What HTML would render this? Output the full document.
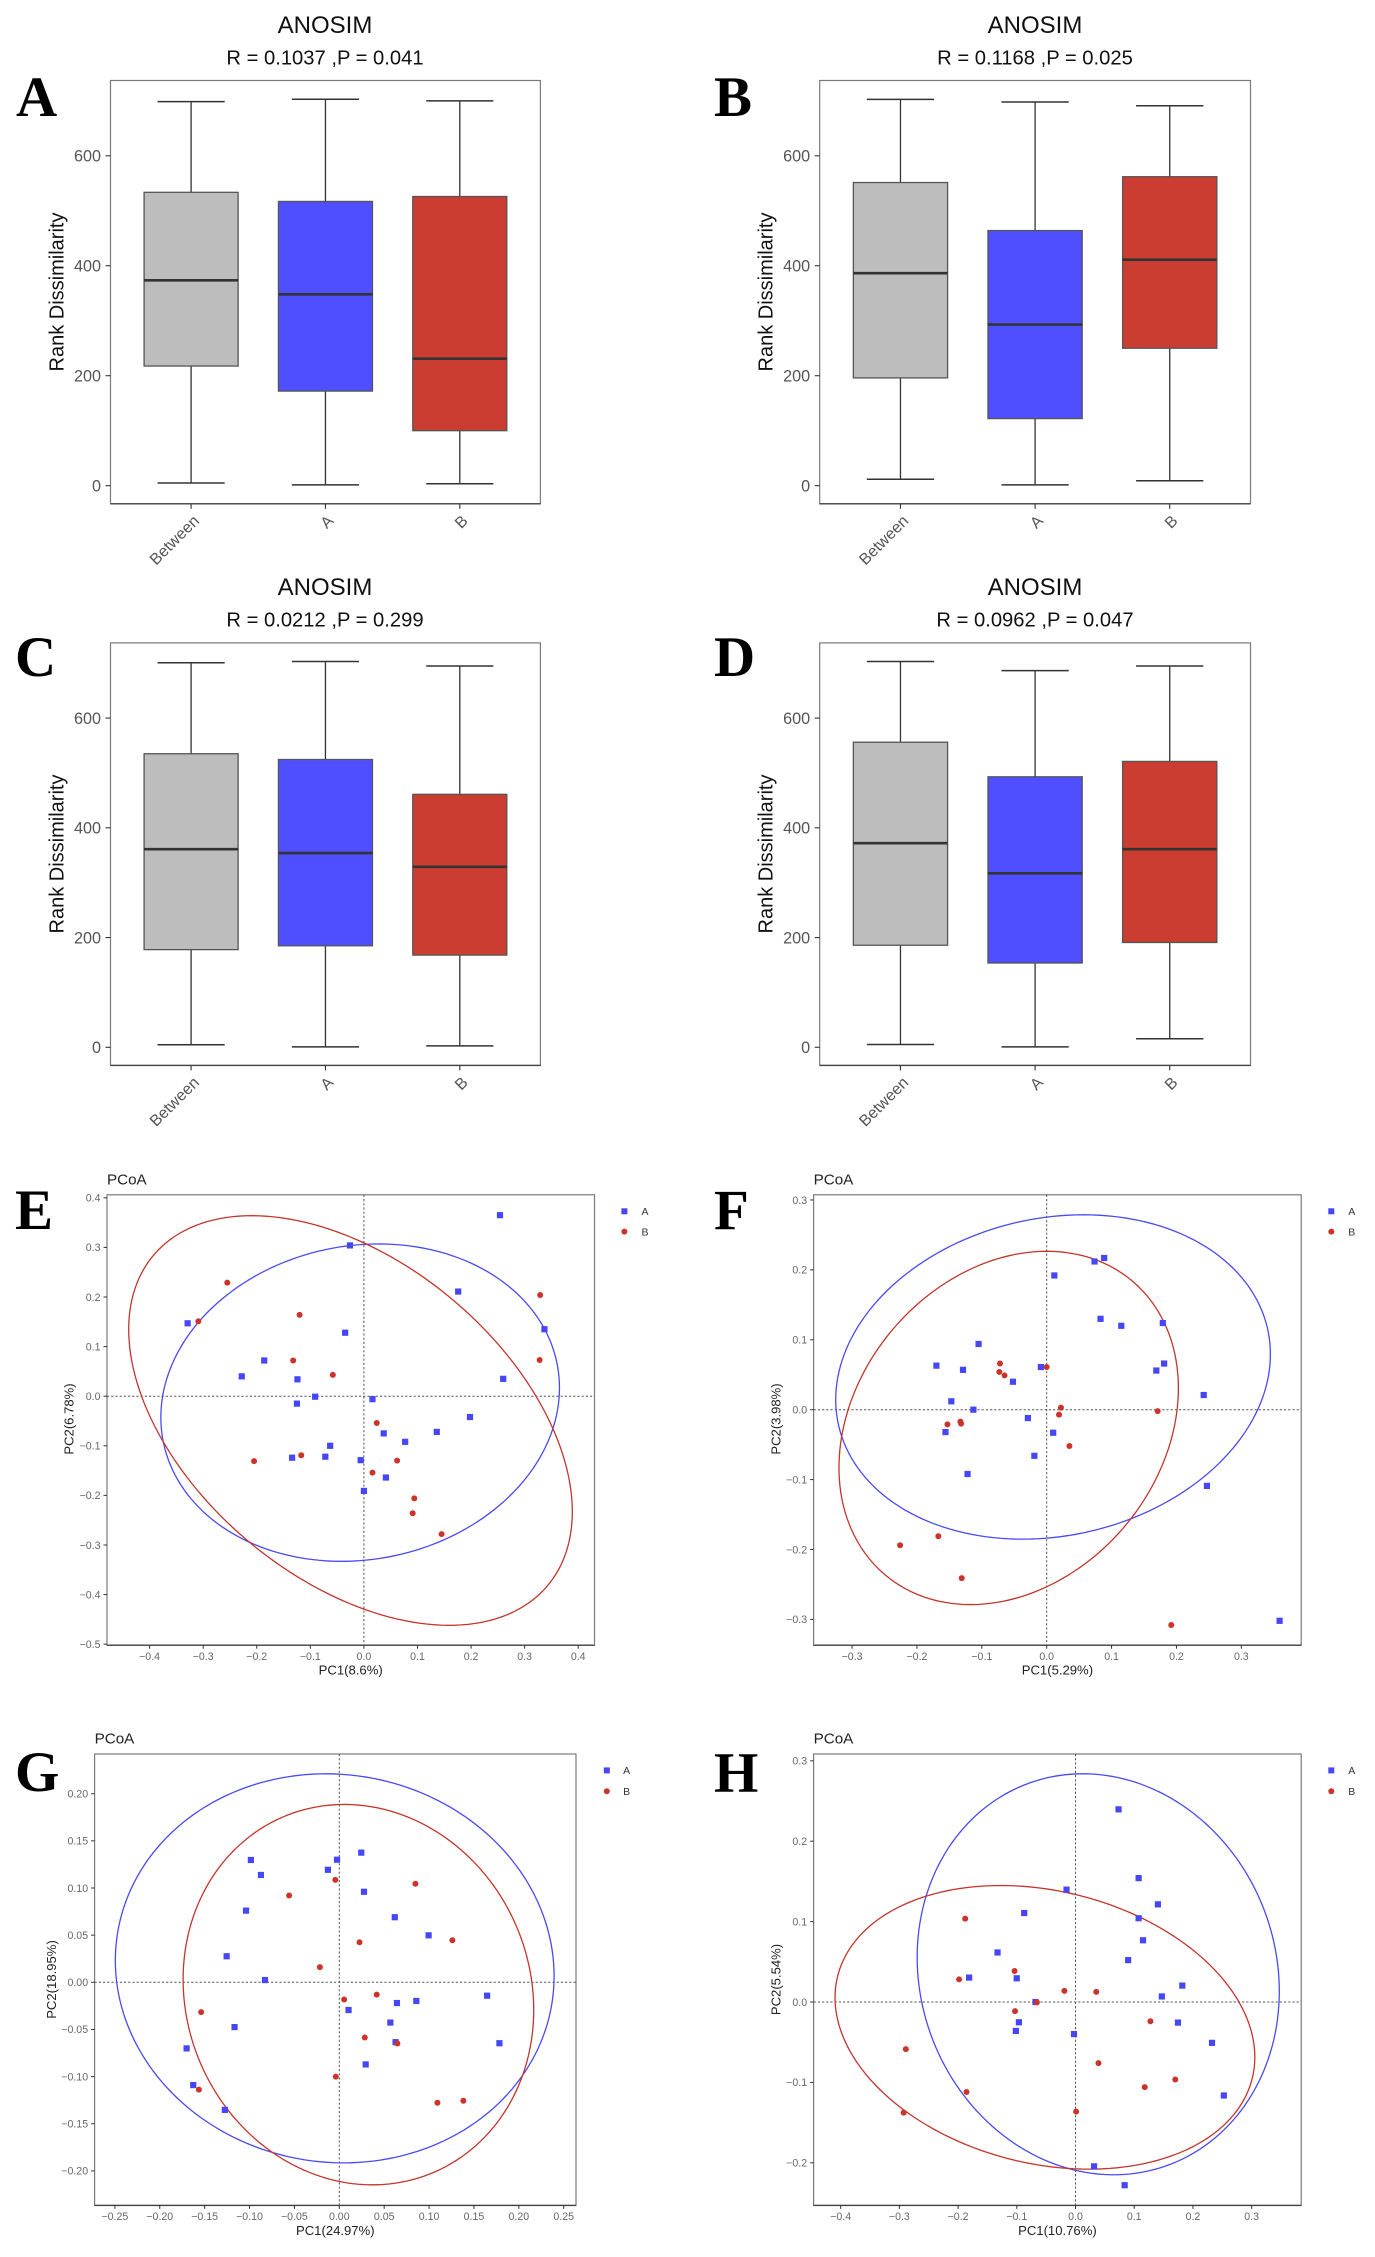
<!DOCTYPE html>
<html lang="en">
<head>
<meta charset="utf-8">
<title>ANOSIM and PCoA panels</title>
<style>
html,body{margin:0;padding:0;background:#fff;}
svg{display:block;filter:blur(0.35px);}
text{font-family:"Liberation Sans",Arial,sans-serif;}
.letter{font-family:"Liberation Serif","Times New Roman",serif;font-weight:bold;font-size:57px;fill:#000;}
.title{font-size:24px;fill:#111;text-anchor:middle;}
.sub{font-size:20.2px;fill:#111;text-anchor:middle;}
.ytitle{font-size:20px;fill:#111;text-anchor:middle;}
.pcoa{font-size:15.2px;fill:#222;}
.axt{font-size:13.1px;fill:#222;text-anchor:middle;}
.leg{font-size:10.5px;fill:#333;text-anchor:middle;}
</style>
</head>
<body>
<svg id="figure" xmlns="http://www.w3.org/2000/svg" width="1375" height="2257" viewBox="0 0 1375 2257">
<rect width="1375" height="2257" fill="#fff"/>
<g id="plots"></g>

<text class="letter" x="16" y="116">A</text>
<text class="title" x="325" y="33">ANOSIM</text>
<text class="sub" x="325" y="64.7">R = 0.1037 ,P = 0.041</text>
<text class="ytitle" transform="translate(63.5,292) rotate(-90)">Rank Dissimilarity</text>

<text class="letter" x="714" y="116">B</text>
<text class="title" x="1035" y="33">ANOSIM</text>
<text class="sub" x="1035" y="64.7">R = 0.1168 ,P = 0.025</text>
<text class="ytitle" transform="translate(772.5,292) rotate(-90)">Rank Dissimilarity</text>

<text class="letter" x="15" y="676">C</text>
<text class="title" x="325" y="595">ANOSIM</text>
<text class="sub" x="325" y="626.5">R = 0.0212 ,P = 0.299</text>
<text class="ytitle" transform="translate(63.5,854) rotate(-90)">Rank Dissimilarity</text>

<text class="letter" x="714" y="676">D</text>
<text class="title" x="1035" y="595">ANOSIM</text>
<text class="sub" x="1035" y="626.5">R = 0.0962 ,P = 0.047</text>
<text class="ytitle" transform="translate(772.5,854) rotate(-90)">Rank Dissimilarity</text>

<text class="letter" x="15" y="1229">E</text>
<text class="pcoa" x="107" y="1184.4">PCoA</text>
<text class="axt" x="350.7" y="1674.5">PC1(8.6%)</text>
<text class="axt" transform="translate(73.5,1419) rotate(-90)">PC2(6.78%)</text>

<text class="letter" x="714" y="1229">F</text>
<text class="pcoa" x="813.6" y="1184.4">PCoA</text>
<text class="axt" x="1057.4" y="1674.5">PC1(5.29%)</text>
<text class="axt" transform="translate(780.4,1419) rotate(-90)">PC2(3.98%)</text>

<text class="letter" x="15" y="1791">G</text>
<text class="pcoa" x="94.6" y="1743.5">PCoA</text>
<text class="axt" x="335.3" y="2235">PC1(24.97%)</text>
<text class="axt" transform="translate(55.9,1979.5) rotate(-90)">PC2(18.95%)</text>

<text class="letter" x="714" y="1792">H</text>
<text class="pcoa" x="813.6" y="1743.5">PCoA</text>
<text class="axt" x="1057.4" y="2235">PC1(10.76%)</text>
<text class="axt" transform="translate(780.4,1979.5) rotate(-90)">PC2(5.54%)</text>

<g>
<rect x="621.4" y="1208.3" width="6" height="6" fill="#4646f5"/>
<text class="leg" x="645" y="1215">A</text>
<circle cx="624.4" cy="1231.6" r="3" fill="#cc3329"/>
<text class="leg" x="645" y="1235.3">B</text>
</g>
<g>
<rect x="1328.3" y="1208.3" width="6" height="6" fill="#4646f5"/>
<text class="leg" x="1351.8" y="1215">A</text>
<circle cx="1331.3" cy="1231.6" r="3" fill="#cc3329"/>
<text class="leg" x="1351.8" y="1235.3">B</text>
</g>
<g>
<rect x="603.8" y="1767.4" width="6" height="6" fill="#4646f5"/>
<text class="leg" x="626.6" y="1774.1">A</text>
<circle cx="606.8" cy="1791.3" r="3" fill="#cc3329"/>
<text class="leg" x="626.6" y="1795">B</text>
</g>
<g>
<rect x="1328.3" y="1767.4" width="6" height="6" fill="#4646f5"/>
<text class="leg" x="1351.8" y="1774.1">A</text>
<circle cx="1331.3" cy="1791.3" r="3" fill="#cc3329"/>
<text class="leg" x="1351.8" y="1795">B</text>
</g>
</svg>

<script>
// ---- Boxplot data ----
const boxCategories = ['Between', 'A', 'B'];
const boxTicks = [0, 200, 400, 600];

const panelA_high = [698.5, 703, 700];
const panelA_q3 = [533.6, 517, 526];
const panelA_median = [373.5, 348, 231];
const panelA_q1 = [217.6, 172, 100];
const panelA_low = [4.8, 1.4, 3.4];

const panelB_high = [702.6, 698, 691];
const panelB_q3 = [551.4, 464, 562];
const panelB_median = [386.5, 293, 411];
const panelB_q1 = [196, 122, 250];
const panelB_low = [11.6, 1.4, 9];

const panelC_high = [700.8, 703, 695];
const panelC_q3 = [535, 524.5, 461];
const panelC_median = [361, 354, 329];
const panelC_q1 = [178, 185, 168];
const panelC_low = [4.6, 0.7, 2.6];

const panelD_high = [703, 686.5, 695];
const panelD_q3 = [556, 493, 521];
const panelD_median = [372, 317, 361];
const panelD_q1 = [186, 153.6, 191];
const panelD_low = [5, 0.7, 15.6];

// ---- PCoA data ----
const panelE_xTicks = [-0.4, -0.3, -0.2, -0.1, 0, 0.1, 0.2, 0.3, 0.4];
const panelE_yTicks = [-0.5, -0.4, -0.3, -0.2, -0.1, 0, 0.1, 0.2, 0.3, 0.4];
const panelE_A_x = [0.254, -0.026, 0.176, -0.329, 0.337, -0.035, -0.186, -0.228, -0.124, 0.26, -0.091, 0.016, -0.125, 0.198, 0.136, 0.037, 0.077, -0.063, -0.072, -0.134, -0.006, 0.041, 0];
const panelE_A_y = [0.365, 0.304, 0.211, 0.147, 0.135, 0.128, 0.072, 0.04, 0.034, 0.035, -0.001, -0.006, -0.015, -0.042, -0.072, -0.075, -0.092, -0.1, -0.122, -0.124, -0.129, -0.164, -0.191];
const panelE_B_x = [-0.255, 0.329, -0.309, -0.12, 0.328, -0.132, -0.058, 0.024, -0.117, -0.205, 0.062, 0.016, 0.094, 0.091, 0.145];
const panelE_B_y = [0.229, 0.204, 0.151, 0.164, 0.073, 0.072, 0.043, -0.054, -0.119, -0.131, -0.13, -0.154, -0.206, -0.236, -0.278];
const panelE_A_ellipse = [-0.007, -0.013, 0.372, 0.32, 0.093];
const panelE_B_ellipse = [-0.025, -0.049, 0.414, 0.413, -0.445];

const panelF_xTicks = [-0.3, -0.2, -0.1, 0, 0.1, 0.2, 0.3];
const panelF_yTicks = [-0.3, -0.2, -0.1, 0, 0.1, 0.2, 0.3];
const panelF_A_x = [0.0886, 0.0737, 0.0118, 0.083, 0.115, 0.179, -0.105, -0.17, -0.129, -0.009, -0.052, 0.181, 0.169, 0.242, -0.147, -0.113, -0.029, -0.156, 0.01, -0.019, -0.122, 0.247, 0.359];
const panelF_A_y = [0.217, 0.212, 0.192, 0.13, 0.12, 0.124, 0.094, 0.063, 0.057, 0.061, 0.04, 0.066, 0.056, 0.021, 0.012, 0, -0.012, -0.032, -0.033, -0.066, -0.092, -0.109, -0.302];
const panelF_B_x = [-0.072, -0.073, -0.065, 0, 0.022, 0.019, 0.171, -0.133, -0.132, -0.153, 0.035, -0.167, -0.226, -0.131, 0.192];
const panelF_B_y = [0.066, 0.054, 0.049, 0.061, 0.003, -0.007, -0.002, -0.017, -0.02, -0.021, -0.052, -0.181, -0.194, -0.241, -0.308];
const panelF_A_ellipse = [0.0098, 0.0468, 0.335, 0.232, 0.14];
const panelF_B_ellipse = [-0.0586, -0.0261, 0.2616, 0.2527, 0.225];

const panelG_xTicks = [-0.25, -0.2, -0.15, -0.1, -0.05, 0, 0.05, 0.1, 0.15, 0.2, 0.25];
const panelG_yTicks = [-0.2, -0.15, -0.1, -0.05, 0, 0.05, 0.1, 0.15, 0.2];
const panelG_A_x = [0.0245, -0.0025, -0.0985, -0.0127, -0.0873, 0.0275, -0.1039, 0.0618, 0.0995, -0.1255, -0.0828, 0.1647, 0.0858, 0.0642, 0.0103, 0.0569, -0.1167, 0.0627, 0.1784, -0.1701, 0.0294, -0.1627, -0.1275];
const panelG_A_y = [0.1375, 0.13, 0.1297, 0.1193, 0.1138, 0.096, 0.076, 0.069, 0.0498, 0.0276, 0.0024, -0.0142, -0.0198, -0.022, -0.0294, -0.0427, -0.0475, -0.0635, -0.0646, -0.0701, -0.0871, -0.109, -0.1353];
const panelG_B_x = [-0.0044, 0.0848, -0.0559, 0.126, 0.0225, -0.0216, 0.0417, 0.0054, -0.1539, 0.0284, 0.0647, -0.0039, -0.1564, 0.1093, 0.1382];
const panelG_B_y = [0.1086, 0.1045, 0.092, 0.0446, 0.0424, 0.0161, -0.0131, -0.0183, -0.0316, -0.0586, -0.0649, -0.1001, -0.1138, -0.1278, -0.1256];
const panelG_A_ellipse = [-0.0051, 0.0148, 0.2444, 0.2063, -0.04];
const panelG_B_ellipse = [0.0213, -0.0131, 0.1953, 0.2017, -0.08];

const panelH_xTicks = [-0.4, -0.3, -0.2, -0.1, 0, 0.1, 0.2, 0.3];
const panelH_yTicks = [-0.2, -0.1, 0, 0.1, 0.2, 0.3];
const panelH_A_x = [0.0733, 0.1075, -0.0153, 0.1403, -0.0874, 0.1075, 0.115, -0.1328, 0.0897, -0.1812, -0.1001, 0.1819, 0.147, -0.0681, 0.1745, -0.0964, -0.1016, -0.0026, 0.2325, 0.2526, 0.0316, 0.0837];
const panelH_A_y = [0.2396, 0.1541, 0.1398, 0.1215, 0.1107, 0.1042, 0.0768, 0.0616, 0.0521, 0.0304, 0.0295, 0.0204, 0.0069, 0, -0.0256, -0.0252, -0.036, -0.0399, -0.0508, -0.1163, -0.2044, -0.2279];
const panelH_B_x = [-0.1879, -0.1038, -0.1983, -0.019, 0.0353, -0.0658, -0.103, 0.1276, -0.289, 0.0391, 0.17, 0.1179, -0.1856, 0.0011, -0.2928];
const panelH_B_y = [0.1037, 0.0386, 0.0282, 0.0139, 0.0126, -0.0004, -0.0113, -0.0239, -0.0586, -0.076, -0.0964, -0.1059, -0.112, -0.1363, -0.1376];
const panelH_A_ellipse = [0.0387, 0.0345, 0.3084, 0.2494, -0.085];
const panelH_B_ellipse = [-0.0521, -0.0315, 0.3575, 0.1764, -0.21];

// ---- Drawing ----
const NS = 'http://www.w3.org/2000/svg';
const root = document.getElementById('plots');
const boxFill = ['#bdbdbd', '#4f4fff', '#cb3c31'];

function make(tag, attrs, parent) {
  const node = document.createElementNS(NS, tag);
  for (const k in attrs) node.setAttribute(k, attrs[k]);
  parent.appendChild(node);
  return node;
}
function linear(d0, d1, r0, r1) {
  return v => r0 + (v - d0) * (r1 - r0) / (d1 - d0);
}

function drawFrame(g, f) {
  const frame = make('rect', {x: f.l, y: f.t, width: f.r - f.l, height: f.b - f.t, fill: '#fff', stroke: '#7a7a7a', 'stroke-width': 1.2}, g);
  
  
  const axis = make('line', {x1: f.l, x2: f.r, y1: f.b, y2: f.b, stroke: '#444', 'stroke-width': 1.4}, g);
  
  
}

function drawBoxPanel(key, f, high, q3, median, q1, low) {
  const g = make('g', {}, root);
  
  
  drawFrame(g, f);
  const y = linear(-33, 737, f.b, f.t);
  const step = (f.r - f.l) / 3.2;
  const x = i => f.l + (0.6 + i) * step;

  boxTicks.forEach(v => {
    const tick = make('line', {x1: f.l - 5, x2: f.l, y1: y(v), y2: y(v), stroke: '#333', 'stroke-width': 1.1}, g);
    
    
    const label = make('text', {x: f.l - 9.5, y: y(v) + 5.7, 'font-size': 16.2, fill: '#555', 'text-anchor': 'end'}, g);
    
    
    label.textContent = String(v);
  });

  boxCategories.forEach((cat, i) => {
    const cx = x(i);
    const tick = make('line', {x1: cx, x2: cx, y1: f.b, y2: f.b + 5, stroke: '#333', 'stroke-width': 1.1}, g);
    
    
    const label = make('text', {transform: 'translate(' + (cx + 9) + ',' + (f.b + 18) + ') rotate(-45)', 'font-size': 16, fill: '#555', 'text-anchor': 'end'}, g);
    
    
    label.textContent = cat;

    const whisker = make('line', {x1: cx, x2: cx, y1: y(high[i]), y2: y(low[i]), stroke: '#333', 'stroke-width': 1.3}, g);
    
    
    const capHigh = make('line', {x1: cx - step * 0.25, x2: cx + step * 0.25, y1: y(high[i]), y2: y(high[i]), stroke: '#333', 'stroke-width': 1.5}, g);
    
    
    const capLow = make('line', {x1: cx - step * 0.25, x2: cx + step * 0.25, y1: y(low[i]), y2: y(low[i]), stroke: '#333', 'stroke-width': 1.5}, g);
    
    
    const box = make('rect', {x: cx - step * 0.35, y: y(q3[i]), width: step * 0.7, height: y(q1[i]) - y(q3[i]), fill: boxFill[i], stroke: '#555', 'stroke-width': 1.3}, g);
    
    
    const med = make('line', {x1: cx - step * 0.35, x2: cx + step * 0.35, y1: y(median[i]), y2: y(median[i]), stroke: '#333', 'stroke-width': 2.6}, g);
    
    
  });
}

function fmt(v, d) {
  const s = Math.abs(v).toFixed(d);
  return (v < 0 ? '\u2212' : '') + s;
}

function ellipsePath(e, sx, sy) {
  const cx = e[0], cy = e[1], rx = e[2], ry = e[3], rho = e[4];
  const q = Math.sqrt(1 - rho * rho);
  let d = '';
  for (let i = 0; i <= 180; i++) {
    const t = i / 180 * 2 * Math.PI;
    const vx = cx + rx * Math.cos(t);
    const vy = cy + ry * (rho * Math.cos(t) + q * Math.sin(t));
    d += (i ? 'L' : 'M') + sx(vx).toFixed(2) + ' ' + sy(vy).toFixed(2);
  }
  return d + 'Z';
}

function drawPcoaPanel(key, f, xDom, yDom, xTicks, yTicks, dec, ax, ay, bx, by, eA, eB) {
  const g = make('g', {}, root);
  
  
  drawFrame(g, f);
  const sx = linear(xDom[0], xDom[1], f.l, f.r);
  const sy = linear(yDom[0], yDom[1], f.b, f.t);

  xTicks.forEach(v => {
    const tick = make('line', {x1: sx(v), x2: sx(v), y1: f.b, y2: f.b + 3.5, stroke: '#333', 'stroke-width': 1}, g);
    
    
    const label = make('text', {x: sx(v), y: f.b + 14.8, 'font-size': 10.6, fill: '#666', 'text-anchor': 'middle'}, g);
    
    
    label.textContent = fmt(v, dec);
  });
  yTicks.forEach(v => {
    const tick = make('line', {x1: f.l - 3.5, x2: f.l, y1: sy(v), y2: sy(v), stroke: '#333', 'stroke-width': 1}, g);
    
    
    const label = make('text', {x: f.l - 6.5, y: sy(v) + 3.8, 'font-size': 10.6, fill: '#666', 'text-anchor': 'end'}, g);
    
    
    label.textContent = fmt(v, dec);
  });

  const zeroX = make('line', {x1: sx(0), x2: sx(0), y1: f.t, y2: f.b, stroke: '#555', 'stroke-width': 1, 'stroke-dasharray': '2.2 2'}, g);
  
  
  const zeroY = make('line', {x1: f.l, x2: f.r, y1: sy(0), y2: sy(0), stroke: '#555', 'stroke-width': 1, 'stroke-dasharray': '2.2 2'}, g);
  
  

  const ellA = make('path', {d: ellipsePath(eA, sx, sy), fill: 'none', stroke: '#4a4af5', 'stroke-width': 1.3}, g);
  
  
  const ellB = make('path', {d: ellipsePath(eB, sx, sy), fill: 'none', stroke: '#c4352c', 'stroke-width': 1.3}, g);
  
  

  ax.forEach((v, i) => {
    const p = make('rect', {x: sx(v) - 3.1, y: sy(ay[i]) - 3.1, width: 6.2, height: 6.2, fill: '#4646f5'}, g);
    
    
  });
  bx.forEach((v, i) => {
    const p = make('circle', {cx: sx(v), cy: sy(by[i]), r: 3, fill: '#cc3329'}, g);
    
    
  });
}

drawBoxPanel('a', {l: 110.5, r: 540.4, t: 80.5, b: 503.8}, panelA_high, panelA_q3, panelA_median, panelA_q1, panelA_low);
drawBoxPanel('b', {l: 819.7, r: 1250.5, t: 80.5, b: 503.8}, panelB_high, panelB_q3, panelB_median, panelB_q1, panelB_low);
drawBoxPanel('c', {l: 110.5, r: 540.4, t: 642.9, b: 1065.4}, panelC_high, panelC_q3, panelC_median, panelC_q1, panelC_low);
drawBoxPanel('d', {l: 819.7, r: 1250.5, t: 642.9, b: 1065.4}, panelD_high, panelD_q3, panelD_median, panelD_q1, panelD_low);

drawPcoaPanel('e', {l: 107, r: 594.5, t: 1194.8, b: 1645.2}, [-0.4795, 0.4304], [-0.5021, 0.4061], panelE_xTicks, panelE_yTicks, 1, panelE_A_x, panelE_A_y, panelE_B_x, panelE_B_y, panelE_A_ellipse, panelE_B_ellipse);
drawPcoaPanel('f', {l: 813.6, r: 1301.2, t: 1194.8, b: 1645.2}, [-0.3593, 0.3923], [-0.3369, 0.3074], panelF_xTicks, panelF_yTicks, 1, panelF_A_x, panelF_A_y, panelF_B_x, panelF_B_y, panelF_A_ellipse, panelF_B_ellipse);
drawPcoaPanel('g', {l: 94.6, r: 576, t: 1754, b: 2205.4}, [-0.2726, 0.2637], [-0.2366, 0.2421], panelG_xTicks, panelG_yTicks, 2, panelG_A_x, panelG_A_y, panelG_B_x, panelG_B_y, panelG_A_ellipse, panelG_B_ellipse);
drawPcoaPanel('h', {l: 813.6, r: 1301.2, t: 1754, b: 2205.4}, [-0.4461, 0.3844], [-0.253, 0.3085], panelH_xTicks, panelH_yTicks, 1, panelH_A_x, panelH_A_y, panelH_B_x, panelH_B_y, panelH_A_ellipse, panelH_B_ellipse);
</script>
</body>
</html>
